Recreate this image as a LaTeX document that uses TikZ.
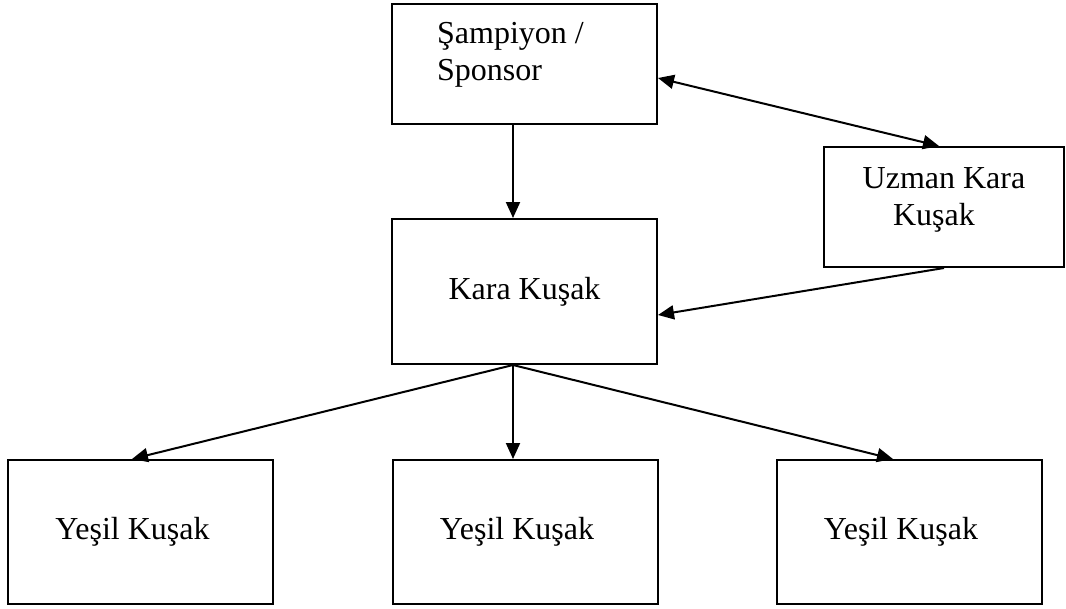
\documentclass[tikz,border=0pt]{standalone}
\usepackage{fontspec}
\setmainfont{Liberation Serif}
\usetikzlibrary{arrows.meta,positioning}

\begin{document}
\begin{tikzpicture}[x=1pt,y=-1pt,>=Latex]
  \tikzset{
    beltbox/.style={
      draw=black,
      line width=2pt,
      minimum width=265pt,
      minimum height=144pt,
      inner sep=0pt,
      align=center,
      font=\fontsize{32}{37}\selectfont
    },
    link/.style={-{Triangle[length=16pt,width=14pt]}, line width=2pt},
    twolink/.style={{Triangle[length=16pt,width=14pt]}-{Triangle[length=16pt,width=14pt]}, line width=2pt},
    beltlabel/.style={font=\fontsize{32}{37}\selectfont, align=left, inner sep=0pt}
  }

  \useasboundingbox (0,0) rectangle (1066,608);

  \node[beltbox, minimum height=120pt] (sponsor) at (524.5,64) {};
  \node[beltlabel, anchor=north west] (sponsortext) at (437,22) {Şampiyon /\\Sponsor};

  \node[beltbox, minimum width=240pt, minimum height=120pt, text depth=21pt] (expert) at (944,207) {Uzman Kara\\Kuşak\hspace*{20pt}};
  \node[beltbox, minimum height=145pt] (black) at (524.5,291.5) {Kara Kuşak};

  \node[beltbox] (greenA) at (140.5,532) {Yeşil Kuşak\hspace{16pt}};
  \node[beltbox] (greenB) at (525,532) {Yeşil Kuşak\hspace{16pt}};
  \node[beltbox] (greenC) at (909,532) {Yeşil Kuşak\hspace{16pt}};

  \draw[link] ([xshift=-11.5pt]sponsor.south) -- ([xshift=-11.5pt]black.north);
  \draw[twolink] ([yshift=-14pt]sponsor.east) -- ([xshift=-5pt]expert.north);
  \draw[link] (expert.south) -- ([yshift=-23.5pt]black.east);

  \draw[link] ([xshift=-11.5pt]black.south) -- ([xshift=-8.5pt]greenA.north);
  \draw[link] ([xshift=-11.5pt]black.south) -- ([xshift=-12pt]greenB.north);
  \draw[link] ([xshift=-11.5pt]black.south) -- ([xshift=-16pt]greenC.north);
\end{tikzpicture}
\end{document}
